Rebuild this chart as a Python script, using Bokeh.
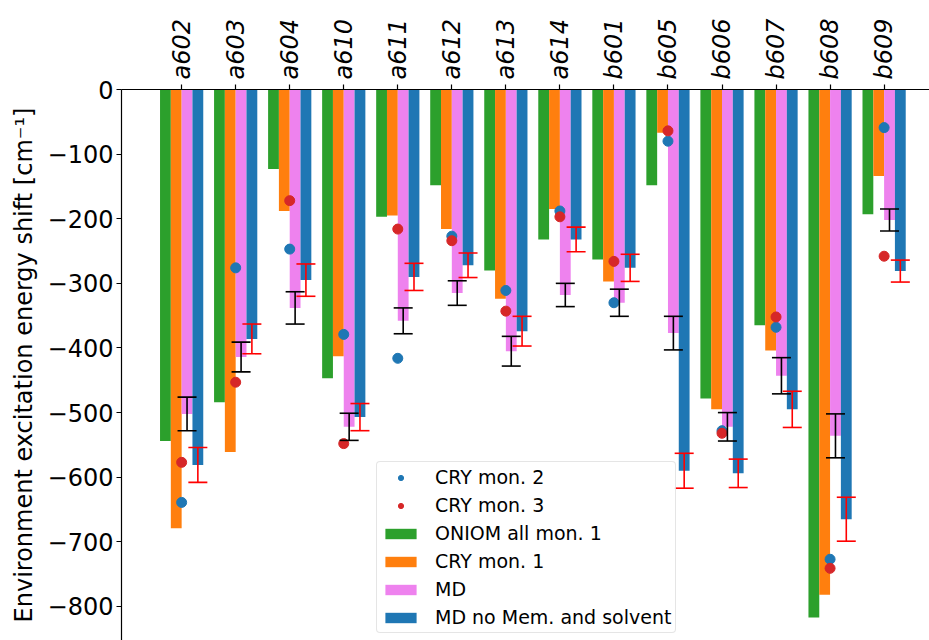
import math
import numpy as np
from bokeh.plotting import figure
from bokeh.models import (Range1d, FixedTicker, Whisker, TeeHead, ColumnDataSource,
                          Legend, LegendItem)
from bokeh.embed import file_html
from bokeh.resources import INLINE

# Pigments
labels = ["a602", "a603", "a604", "a610", "a611", "a612", "a613",
          "a614", "b601", "b605", "b606", "b607", "b608", "b609"]

# Environment excitation energy shifts (cm^-1)
oniom_mon1 = [-544, -484, -123, -447, -197, -148, -280, -232, -263, -148, -478, -365, -817, -193]
cry_mon1 = [-679, -561, -188, -413, -195, -216, -324, -185, -297, -67, -495, -404, -782, -134]
md = [-502, -414, -338, -522, -358, -315, -405, -318, -330, -377, -522, -443, -536, -202]
md_err = [26, 23, 25, 21, 20, 19, 23, 18, 21, 26, 22, 28, 34, 17]
md_nomem = [-581, -386, -295, -507, -290, -272, -374, -232, -276, -590, -594, -495, -665, -281]
md_nomem_err = [27, 23, 25, 21, 21, 19, 23, 19, 21, 27, 22, 28, 34, 17]
cry_mon2 = [-639, -276, -247, -379, -416, -227, -311, -188, -330, -80, -528, -368, -727, -59]
cry_mon3 = [-577, -453, -172, -548, -216, -234, -343, -197, -266, -64, -532, -352, -741, -258]

GREEN, ORANGE, VIOLET, BLUE, RED = "#2ca02c", "#ff7f0e", "#ee82ee", "#1f77b4", "#d62728"
FONT = "DejaVu Sans"

idx = np.arange(len(labels))
bw = 0.2

p = figure(width=929, height=640,
           x_range=Range1d(-1.113, 13.84), y_range=Range1d(-852.7, 0),
           x_axis_location="above",
           output_backend="svg", toolbar_location=None,
           min_border_left=121, min_border_top=89,
           min_border_right=0, min_border_bottom=0)
p.outline_line_color = None
p.xgrid.visible = False
p.ygrid.visible = False
p.background_fill_color = "white"

# grouped bars
r_oniom = p.vbar(x=idx - 0.3, top=oniom_mon1, bottom=0, width=bw, fill_color=GREEN, line_color=None)
r_cry1 = p.vbar(x=idx - 0.1, top=cry_mon1, bottom=0, width=bw, fill_color=ORANGE, line_color=None)
r_md = p.vbar(x=idx + 0.1, top=md, bottom=0, width=bw, fill_color=VIOLET, line_color=None)
r_nomem = p.vbar(x=idx + 0.3, top=md_nomem, bottom=0, width=bw, fill_color=BLUE, line_color=None)

# error bars on the two MD series
def add_err(xs, vals, errs, color):
    v = np.array(vals, dtype=float)
    e = np.array(errs, dtype=float)
    src = ColumnDataSource(dict(x=xs, lower=v - e, upper=v + e))
    w = Whisker(source=src, base="x", lower="lower", upper="upper", dimension="height",
                line_color=color, line_width=1.6, level="glyph",
                upper_head=TeeHead(size=19, line_color=color, line_width=1.6),
                lower_head=TeeHead(size=19, line_color=color, line_width=1.6))
    p.add_layout(w)

add_err(idx + 0.1, md, md_err, "black")
add_err(idx + 0.3, md_nomem, md_nomem_err, "red")

# single-monomer points
r_c2 = p.scatter(x=idx, y=cry_mon2, size=10, fill_color=BLUE, line_color=BLUE)
r_c3 = p.scatter(x=idx, y=cry_mon3, size=10, fill_color=RED, line_color=RED)

# axes
xa = p.xaxis[0]
xa.ticker = FixedTicker(ticks=list(idx))
xa.major_label_overrides = {int(i): lab for i, lab in zip(idx, labels)}
xa.major_label_orientation = math.pi / 2
xa.major_label_text_font = FONT
xa.major_label_text_font_style = "italic"
xa.major_label_text_font_size = "24px"
xa.major_label_text_color = "black"
xa.major_label_standoff = 5

ya = p.yaxis[0]
yticks = list(range(-800, 1, 100))
ya.ticker = FixedTicker(ticks=yticks)
ya.major_label_overrides = {t: (str(t).replace("-", "\u2212")) for t in yticks}
ya.major_label_text_font = FONT
ya.major_label_text_font_size = "24px"
ya.major_label_text_color = "black"
ya.major_label_standoff = 3
ya.axis_label = "Environment excitation energy shift [cm\u207b\u00b9]"
ya.axis_label_text_font = FONT
ya.axis_label_text_font_style = "normal"
ya.axis_label_text_font_size = "24px"
ya.axis_label_text_color = "black"
ya.axis_label_standoff = 7

for ax in (xa, ya):
    ax.axis_line_color = "black"
    ax.axis_line_width = 1.2
    ax.major_tick_line_color = "black"
    ax.major_tick_line_width = 1.2
    ax.major_tick_out = 5
    ax.major_tick_in = 0
    ax.minor_tick_line_color = None

legend = Legend(items=[
    LegendItem(label="CRY mon. 2", renderers=[r_c2]),
    LegendItem(label="CRY mon. 3", renderers=[r_c3]),
    LegendItem(label="ONIOM all mon. 1", renderers=[r_oniom]),
    LegendItem(label="CRY mon. 1", renderers=[r_cry1]),
    LegendItem(label="MD", renderers=[r_md]),
    LegendItem(label="MD no Mem. and solvent", renderers=[r_nomem]),
], location=(255, 7))
legend.label_text_font = FONT
legend.label_text_font_size = "19px"
legend.label_text_color = "black"
legend.glyph_width = 39
legend.glyph_height = 13
legend.label_height = 20
legend.label_standoff = 15
legend.spacing = 6
legend.padding = 4
legend.margin = 0
legend.border_line_color = "#cccccc"
legend.border_line_width = 1
legend.border_radius = 4
legend.background_fill_color = "white"
legend.background_fill_alpha = 0.8
p.add_layout(legend, "center")

open("out.html", "w").write(file_html(p, INLINE))
